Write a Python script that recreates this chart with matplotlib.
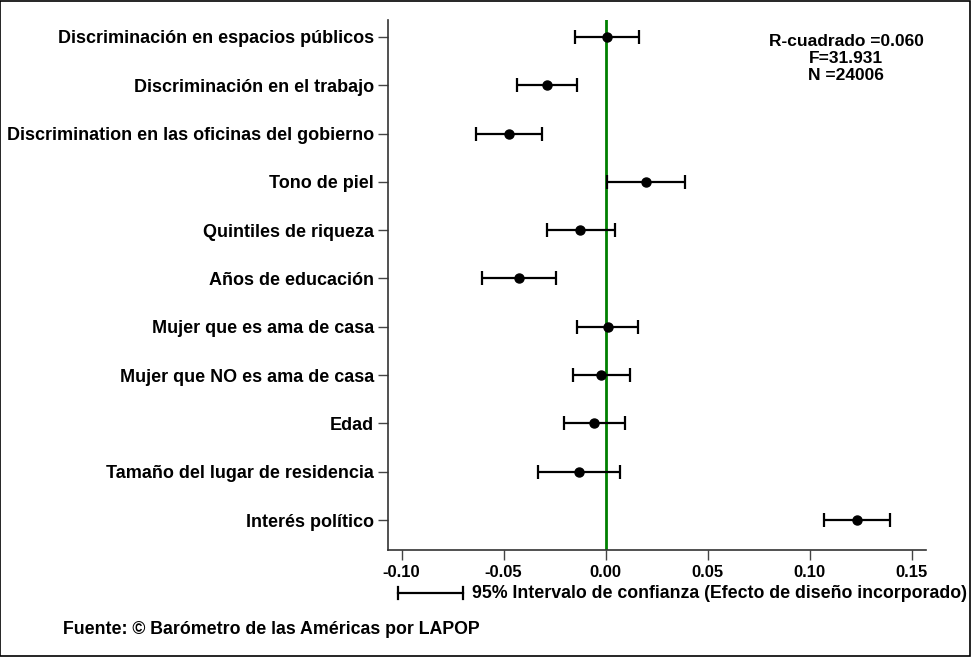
import matplotlib
matplotlib.use("Agg")
import matplotlib.pyplot as plt
from matplotlib.patches import Rectangle
from matplotlib.lines import Line2D

# Coefficients with 95% confidence intervals
variables = [
    "Discriminación en espacios públicos",
    "Discriminación en el trabajo",
    "Discrimination en las oficinas del gobierno",
    "Tono de piel",
    "Quintiles de riqueza",
    "Años de educación",
    "Mujer que es ama de casa",
    "Mujer que NO es ama de casa",
    "Edad",
    "Tamaño del lugar de residencia",
    "Interés político",
]
coef = [0.0007, -0.0289, -0.0473, 0.0198, -0.0124, -0.0424, 0.0009, -0.0021, -0.0056, -0.0133, 0.1231]
ci_low = [-0.0150, -0.0436, -0.0637, 0.0007, -0.0289, -0.0604, -0.0140, -0.0161, -0.0202, -0.0334, 0.1068]
ci_high = [0.0163, -0.0140, -0.0312, 0.0391, 0.0044, -0.0243, 0.0159, 0.0121, 0.0095, 0.0068, 0.1394]
xticks = [-0.10, -0.05, 0.00, 0.05, 0.10, 0.15]
xtick_labels = ["-0.10", "-0.05", "0.00", "0.05", "0.10", "0.15"]
stats_lines = ["R-cuadrado =0.060", "F=31.931", "N =24006"]

font = ["Liberation Sans", "DejaVu Sans"]
W, H = 971, 657

fig = plt.figure(figsize=(W / 100, H / 100), dpi=100)
ax = fig.add_axes([388 / W, 1 - 550 / H, (926 - 388) / W, (550 - 20) / H])

ypos = list(range(len(variables)))
err_lo = [c - l for c, l in zip(coef, ci_low)]
err_hi = [h - c for c, h in zip(coef, ci_high)]

ax.axvline(0, color="#008000", lw=2.0, zorder=1)
ax.errorbar(coef, ypos, xerr=[err_lo, err_hi], fmt="o", color="black",
            ms=6.5, lw=1.6, capsize=5, capthick=1.6, zorder=3)

ax.set_ylim(len(variables) - 1 + 0.62, -0.35)
ax.set_xlim(-0.1067, 0.157)

ax.set_yticks(ypos)
ax.set_yticklabels(variables, fontfamily=font, fontweight="bold", fontsize=13)
ax.set_xticks(xticks)
ax.set_xticklabels(xtick_labels, fontfamily=font, fontweight="bold", fontsize=12)
ax.tick_params(axis="y", length=7, width=1, color="#444444", pad=3)
ax.tick_params(axis="x", length=7, width=1, color="#444444", pad=4)

for s in ["top", "right"]:
    ax.spines[s].set_visible(False)
for s in ["left", "bottom"]:
    ax.spines[s].set_linewidth(1.2)
    ax.spines[s].set_color("#333333")

# Model fit statistics
for i, line in enumerate(stats_lines):
    fig.text(846 / W, 1 - (42 + 16.5 * i) / H, line, ha="center", va="center",
             fontfamily=font, fontweight="bold", fontsize=12.5)

# Confidence interval key
ky = 1 - 593 / H
fig.add_artist(Line2D([398 / W, 463 / W], [ky, ky], color="black", lw=1.6))
for kx in (398 / W, 463 / W):
    fig.add_artist(Line2D([kx, kx], [ky - 6 / H, ky + 6 / H], color="black", lw=1.6))
fig.text(472 / W, ky, "95% Intervalo de confianza (Efecto de diseño incorporado)",
         ha="left", va="center", fontfamily=font, fontweight="bold", fontsize=12.8)

fig.text(63 / W, 1 - 629 / H, "Fuente: © Barómetro de las Américas por LAPOP",
         ha="left", va="center", fontfamily=font, fontweight="bold", fontsize=12.8)

# Outer frame
fig.add_artist(Rectangle((0.0005, 0.0008), 0.998, 0.998, transform=fig.transFigure,
                         fill=False, edgecolor="black", lw=1.2))

fig.savefig("out.png", dpi=100)
